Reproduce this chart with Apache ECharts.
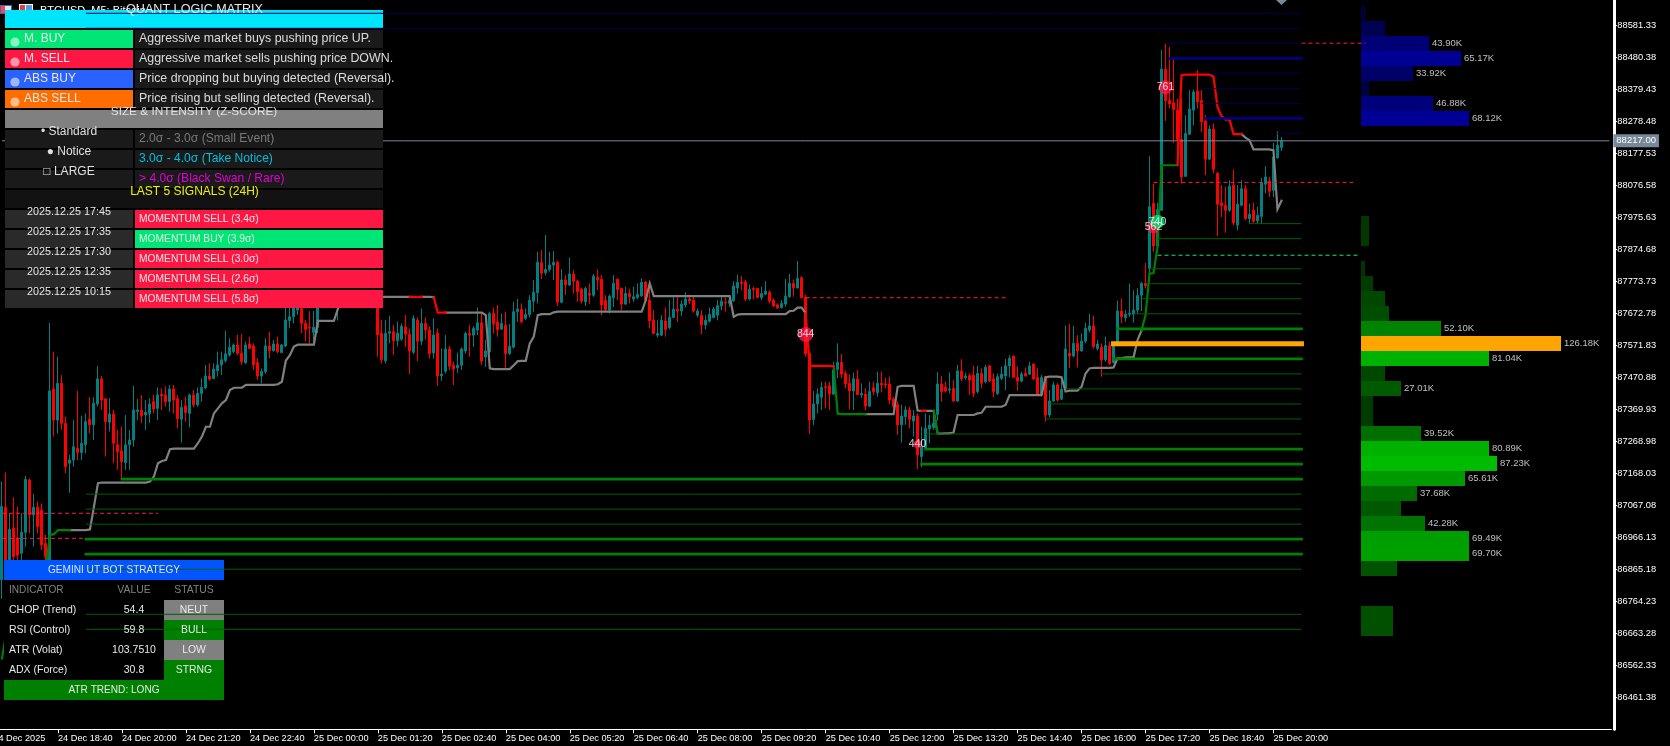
<!DOCTYPE html>
<html><head><meta charset="utf-8"><style>html,body{margin:0;padding:0;background:#000;overflow:hidden}#c{width:1670px;height:746px}</style>
<script src="https://cdn.jsdelivr.net/npm/echarts@6/dist/echarts.min.js"></script></head><body><div id="c"></div><script>
const currentPrice = 88217;
const priceTicks = [88581.33,88480.38,88379.43,88278.48,88177.53,88076.58,87975.63,87874.68,87773.73,87672.78,87571.83,87470.88,87369.93,87268.98,87168.03,87067.08,86966.13,86865.18,86764.23,86663.28,86562.33,86461.38];
const clippedFirstLabel = '24 Dec 2025';
const timeLabels = ['24 Dec 18:40','24 Dec 20:00','24 Dec 21:20','24 Dec 22:40','25 Dec 00:00','25 Dec 01:20','25 Dec 02:40','25 Dec 04:00','25 Dec 05:20','25 Dec 06:40','25 Dec 08:00','25 Dec 09:20','25 Dec 10:40','25 Dec 12:00','25 Dec 13:20','25 Dec 14:40','25 Dec 16:00','25 Dec 17:20','25 Dec 18:40','25 Dec 20:00'];
// open, close, low, high per 5-minute bar
const candleRows = [
[86832,87063,86772,87142],[87061,86884,86874,87171],[86895,86991,86874,87042],[86995,86905,86874,87092],[86963,86910,86884,87063],[86916,86982,86895,87042],[86982,87149,86937,87160],[87147,87037,86979,87152],[87037,87061,86937,87103],[87061,87000,86979,87079],
[87052,86942,86926,87073],[86947,86905,86884,86974],[86884,87428,86874,87643],[87434,87336,87284,87552],[87336,87452,87294,87536],[87452,87326,87305,87478],[87326,87189,87168,87347],[87200,87210,87107,87226],[87210,87252,87189,87336],[87247,87234,87210,87428],
[87234,87263,87210,87350],[87258,87331,87231,87357],[87339,87321,87294,87408],[87321,87389,87273,87408],[87387,87466,87378,87507],[87466,87399,87368,87475],[87403,87331,87221,87405],[87329,87355,87300,87405],[87355,87263,87200,87368],[87258,87236,87179,87305],
[87239,87205,87149,87315],[87202,87258,87179,87352],[87258,87273,87179,87305],[87273,87368,87252,87444],[87363,87368,87336,87402],[87368,87350,87326,87415],[87352,87361,87305,87399],[87357,87387,87326,87405],[87394,87371,87357,87415],[87373,87415,87336,87439],
[87417,87412,87368,87436],[87415,87394,87378,87442],[87394,87434,87363,87447],[87434,87399,87357,87447],[87403,87340,87310,87415],[87339,87376,87265,87399],[87381,87360,87331,87410],[87357,87415,87313,87420],[87415,87384,87376,87431],[87384,87420,87378,87439],
[87420,87439,87394,87468],[87438,87475,87433,87510],[87475,87465,87460,87515],[87467,87497,87465,87515],[87492,87510,87473,87552],[87510,87526,87478,87552],[87524,87545,87517,87618],[87541,87566,87536,87594],[87552,87573,87547,87578],[87573,87547,87541,87605],
[87547,87520,87510,87607],[87517,87573,87513,87584],[87576,87562,87559,87599],[87570,87510,87494,87578],[87517,87475,87463,87531],[87475,87489,87452,87499],[87489,87570,87482,87594],[87570,87555,87531,87615],[87555,87576,87552,87589],[87576,87552,87547,87599],
[87549,87573,87547,87576],[87570,87652,87566,87720],[87650,87662,87626,87735],[87662,87710,87641,87760],[87683,87736,87668,87790],[87687,87641,87610,87740],[87641,87622,87584,87652],[87629,87626,87578,87680],[87613,87629,87573,87680],[87628,87725,87610,87790],
[87720,87790,87690,87840],[87790,87750,87720,87830],[87750,87720,87700,87800],[87720,87780,87700,87830],[87700,87830,87650,87860],[87830,87790,87760,87870],[87790,87850,87770,87890],[87850,87800,87770,87880],[87800,87870,87780,87910],[87870,87820,87790,87900],
[87820,87780,87750,87840],[87780,87830,87750,87860],[87830,87770,87740,87850],[87770,87740,87720,87790],[87740,87605,87536,87780],[87610,87526,87515,87652],[87523,87610,87515,87652],[87610,87615,87578,87665],[87615,87587,87541,87636],[87587,87610,87568,87647],
[87591,87632,87586,87641],[87630,87607,87567,87667],[87607,87554,87481,87625],[87550,87657,87544,87667],[87651,87585,87522,87660],[87585,87641,87573,87688],[87641,87620,87590,87660],[87620,87546,87530,87632],[87548,87604,87530,87657],[87609,87475,87444,87625],
[87476,87481,87460,87562],[87490,87560,87483,87604],[87560,87506,87494,87570],[87509,87497,87446,87520],[87501,87509,87485,87549],[87509,87560,87494,87565],[87554,87609,87546,87615],[87609,87604,87536,87636],[87604,87625,87567,87632],[87620,87643,87604,87691],
[87643,87522,87509,87678],[87535,87554,87504,87588],[87551,87672,87548,87678],[87672,87639,87609,87691],[87645,87622,87599,87699],[87623,87641,87620,87672],[87635,87546,87499,87678],[87546,87569,87541,87639],[87566,87678,87562,87709],[87678,87686,87646,87718],
[87685,87646,87641,87704],[87657,87669,87651,87688],[87669,87714,87660,87730],[87711,87739,87678,87778],[87738,87834,87704,87867],[87832,87799,87781,87872],[87801,87811,87793,87920],[87811,87825,87804,87867],[87825,87834,87778,87869],[87834,87708,87696,87839],
[87708,87778,87704,87812],[87778,87762,87730,87793],[87762,87797,87759,87849],[87797,87774,87735,87809],[87774,87741,87709,87778],[87749,87711,87704,87754],[87709,87751,87696,87757],[87735,87730,87702,87767],[87730,87790,87725,87797],[87786,87778,87746,87811],
[87780,87699,87667,87793],[87714,87685,87678,87730],[87683,87727,87672,87732],[87722,87767,87693,87793],[87780,87748,87714,87783],[87751,87702,87683,87754],[87702,87735,87699,87757],[87735,87725,87704,87751],[87718,87725,87709,87757],[87723,87732,87717,87767],
[87728,87770,87725,87783],[87772,87714,87711,87774],[87714,87649,87625,87767],[87651,87609,87607,87683],[87604,87609,87597,87651],[87604,87651,87601,87667],[87649,87622,87599,87691],[87628,87660,87622,87714],[87660,87686,87657,87725],[87686,87680,87646,87723],
[87680,87702,87664,87714],[87699,87718,87691,87739],[87718,87712,87702,87732],[87714,87680,87675,87725],[87667,87680,87660,87688],[87667,87636,87607,87683],[87636,87651,87622,87667],[87648,87669,87644,87691],[87660,87686,87657,87693],[87667,87697,87651,87714],
[87696,87711,87683,87725],[87708,87706,87678,87722],[87704,87714,87693,87725],[87712,87759,87709,87774],[87753,87770,87735,87795],[87770,87767,87746,87790],[87772,87718,87711,87778],[87718,87749,87714,87764],[87751,87748,87717,87757],[87751,87723,87720,87753],
[87723,87735,87714,87757],[87733,87743,87730,87774],[87739,87711,87704,87746],[87714,87696,87693,87720],[87699,87690,87686,87704],[87691,87704,87688,87714],[87702,87727,87693,87781],[87725,87767,87722,87797],[87767,87753,87725,87780],[87753,87783,87751,87838],
[87785,87722,87720,87790],[87723,87545,87536,87731],[87547,87336,87292,87552],[87338,87387,87320,87428],[87387,87418,87357,87436],[87408,87439,87368,87457],[87441,87438,87373,87457],[87444,87418,87368,87457],[87418,87494,87415,87520],[87496,87518,87468,87578],
[87518,87481,87468,87545],[87483,87450,87436,87492],[87452,87428,87370,87480],[87428,87466,87368,87486],[87466,87417,87415,87494],[87415,87420,87405,87452],[87418,87380,87366,87436],[87380,87426,87378,87457],[87438,87426,87415,87457],[87423,87452,87410,87489],
[87452,87447,87423,87489],[87450,87448,87436,87470],[87450,87399,87387,87473],[87402,87380,87373,87410],[87384,87321,87289,87394],[87321,87349,87265,87384],[87347,87368,87321,87380],[87368,87338,87310,87378],[87333,87349,87284,87368],[87349,87226,87182,87357],
[87221,87252,87187,87315],[87247,87310,87242,87357],[87308,87320,87263,87352],[87313,87326,87305,87368],[87354,87450,87334,87487],[87450,87426,87394,87475],[87439,87428,87423,87457],[87431,87434,87420,87486],[87436,87396,87394,87462],[87396,87491,87394,87510],
[87491,87466,87459,87528],[87470,87475,87462,87486],[87476,87462,87415,87483],[87478,87420,87408,87507],[87426,87483,87420,87507],[87483,87452,87436,87499],[87457,87502,87452,87510],[87507,87459,87457,87510],[87466,87426,87408,87483],[87420,87473,87415,87483],
[87468,87481,87462,87505],[87475,87507,87431,87529],[87507,87531,87471,87541],[87538,87471,87468,87538],[87471,87459,87429,87505],[87459,87481,87455,87489],[87483,87475,87473,87502],[87481,87507,87478,87520],[87513,87466,87462,87515],[87470,87418,87415,87499],
[87417,87470,87410,87478],[87473,87352,87331,87475],[87352,87396,87345,87431],[87396,87447,87394,87457],[87447,87399,87394,87452],[87402,87433,87399,87462],[87436,87560,87431,87634],[87547,87538,87499,87639],[87538,87578,87534,87633],[87578,87554,87502,87604],
[87554,87585,87552,87610],[87585,87625,87578,87643],[87620,87633,87612,87671],[87633,87568,87562,87665],[87562,87576,87555,87589],[87566,87526,87473,87578],[87526,87571,87520,87599],[87571,87515,87510,87583],[87517,87578,87515,87580],[87578,87680,87573,87713],
[87680,87662,87641,87720],[87659,87670,87647,87683],[87670,87673,87662,87767],[87670,87683,87643,87746],[87683,87729,87673,87752],[87730,87767,87680,87772],[87767,87760,87751,87832],[87814,88009,87782,88168],[88019,87885,87867,88082],[87885,88000,87882,88022],
[87998,88443,87996,88503],[88443,88343,88280,88524],[88345,88333,88319,88513],[88337,88316,88211,88477],[88314,88221,88140,88350],[88221,88103,88082,88350],[88105,88240,88103,88298],[88238,88317,88235,88377],[88314,88371,88266,88379],[88374,88340,88319,88440],
[88345,88277,88245,88377],[88279,88159,88109,88298],[88159,88254,88156,88266],[88254,88127,88114,88272],[88114,88017,87916,88119],[88021,88012,87977,88077],[88014,87998,87927,88072],[87998,88074,87993,88093],[88077,87958,87951,88126],[87951,88017,87935,88077],
[88014,88066,88011,88093],[88066,87972,87967,88077],[87972,87985,87956,88019],[87998,87963,87958,88022],[87964,87982,87956,88009],[87979,88084,87956,88100],[88080,88103,88051,88137],[88090,88058,88040,88103],[88061,88166,88040,88211],[88163,88203,88161,88247],
[88196,88217,88185,88229]];
// trailing stop: value, number of bars it holds
const trailRuns = [[86584,1],[86660,1],[86710,1],[86760,1],[86780,1],[86800,1],[86820,1],[86830,1],[86840,1],[86850,1],[86855,1],[86874,1],[86974,1],[86976,1],[86989,8],[86991,1],[87063,1],[87137,1],[87139,12],[87142,1],[87158,1],[87200,1],[87207,1],[87210,1],[87244,1],[87246,6],[87263,1],[87284,1],[87315,2],[87357,1],[87373,1],[87389,1],[87399,1],[87431,1],[87438,3],[87447,8],[87449,1],[87457,1],[87524,1],[87541,1],[87568,1],[87574,5],[87649,5],[87686,1],[87725,23],[87723,1],[87675,12],[87667,1],[87499,1],[87497,5],[87509,1],[87522,1],[87523,2],[87578,1],[87599,1],[87667,1],[87670,3],[87676,1],[87678,22],[87714,1],[87767,1],[87727,20],[87662,1],[87669,1],[87670,12],[87680,1],[87681,1],[87691,2],[87673,1],[87507,6],[87505,1],[87357,1],[87355,14],[87441,1],[87444,4],[87366,1],[87365,4],[87294,1],[87293,1],[87294,2],[87297,1],[87352,5],[87357,1],[87359,1],[87378,5],[87384,1],[87415,9],[87471,1],[87473,3],[87471,1],[87426,1],[87429,3],[87441,1],[87483,1],[87499,1],[87501,5],[87502,1],[87531,2],[87534,3],[87588,1],[87619,1],[87667,1],[87798,1],[87800,1],[87882,1],[88140,5],[88424,1],[88426,7],[88419,1],[88324,1],[88295,1],[88284,2],[88238,3],[88227,1],[88219,1],[88190,5],[88187,1],[88001,1],[88028,1]];
const trailStateRuns = [['up',17],['flat',85],['down',3],['flat',3],['down',3],['flat',90],['down',7],['up',8],['flat',14],['down',1],['flat',2],['up',1],['flat',51],['up',9],['down',16],['flat',11]];
// volume profile, top row first: price of row, volume in K, first bar of its level line (null: no line)
const levelPrices = [88619.3,88571.9,88524.5,88477.1,88429.7,88382.3,88334.9,88287.5,88240.1,88192.7,88145.3,88097.9,88050.5,88003.1,87955.7,87908.3,87860.9,87813.5,87766.1,87718.7,87671.3,87623.9,87576.5,87529.1,87481.7,87434.3,87386.9,87339.5,87292.1,87244.7,87197.3,87149.9,87102.5,87055.1,87007.7,86960.3,86912.9,86865.5,86818.1,86770.7,86723.3,86675.9];
const levelVolumes = [2.5,15.2,43.9,65.17,33.92,5,46.88,68.12,0,0,0,0,0,0,5,5,0,2.5,7.6,15.2,17.7,52.1,126.18,81.04,15.2,27.01,7.6,7.6,39.52,80.89,87.23,65.61,37.68,25.3,42.28,69.49,69.7,22.7,0,0,20.2,20.2];
const levelStartBars = [21,21,291,292,302,300,300,301,319,null,null,null,null,null,312,289,null,287,287,285,283,279,278,278,275,266,262,261,231,231,230,30,21,21,21,21,21,21,null,null,21,21];
const supplyRows = 14; // rows above this index are blue
const pocRow = 22;
// dashed signal levels: price, first bar, last bar, side
const signalLevels = [[87042,0,39,'sell'],[86963,0,21,'sell'],[88525,325,341,'sell'],[88086,288,338,'sell'],[87856,289,339,'buy'],[87722,201,251,'sell']];
// signal bubbles: bar, price, text, side, size
const signalDots = [[201,87606,'844','sell',15],[291,88386,'761','sell',14],[288,87946,'562','sell',13],[289,87962,'740','buy',14],[229,87260,'440','sell',8]];

const legendLabels = ['M. BUY','M. SELL','ABS BUY','ABS SELL'];
const legendDescriptions = ['Aggressive market buys pushing price UP.','Aggressive market sells pushing price DOWN.','Price dropping but buying detected (Reversal).','Price rising but selling detected (Reversal).'];
const sizeLabels = ['• Standard','● Notice','□ LARGE'];
const sizeDescriptions = ['2.0σ - 3.0σ (Small Event)','3.0σ - 4.0σ (Take Notice)','> 4.0σ (Black Swan / Rare)'];
const signalTimes = ['2025.12.25 17:45','2025.12.25 17:35','2025.12.25 17:30','2025.12.25 12:35','2025.12.25 10:15'];
const signalTexts = ['MOMENTUM SELL (3.4σ)','MOMENTUM BUY (3.9σ)','MOMENTUM SELL (3.0σ)','MOMENTUM SELL (2.6σ)','MOMENTUM SELL (5.8σ)'];
const indicatorNames = ['CHOP (Trend)','RSI (Control)','ATR (Volat)','ADX (Force)'];
const indicatorValues = ['54.4','59.8','103.7510','30.8'];
const indicatorStatus = ['NEUT','BULL','LOW','STRNG'];

const FONT = '"Liberation Sans", Arial, sans-serif';
const UP = '#008080', DN = '#ff0000';
const BARS = 403, LAST_LEVEL_BAR = 325;
const pxPerPrice = 32 / 100.95;
const yMax = 88661.24, yMin = yMax - 729.3 / pxPerPrice;
const PROFILE_MAX = 126.18, PROFILE_WIDTH = 200, BAR_STEP = 4;
// the profile's bars snap to whole chart-bar widths
const snapVolume = v => Math.floor(v * PROFILE_WIDTH / PROFILE_MAX / BAR_STEP + 0.05) * BAR_STEP * PROFILE_MAX / PROFILE_WIDTH;

const cats = Array.from({length: BARS}, (_, i) => i);
const trail = trailRuns.flatMap(([v, n]) => Array(n).fill(v));
const trailState = trailStateRuns.flatMap(([s, n]) => Array(n).fill(s));
const isLabelBar = i => i >= 14 && (i + 2) % 16 === 0 && (i + 2) / 16 - 1 < timeLabels.length;

const series = [];
series.push({type:'candlestick', xAxisIndex:0, yAxisIndex:0, z:2, barWidth:2.5, clip:true, silent:true, animation:false, data:candleRows,
  itemStyle:{color:UP, color0:DN, borderColor:UP, borderColor0:DN, borderWidth:1}});
series.push({type:'line', xAxisIndex:0, yAxisIndex:0, z:3, silent:true, animation:false, showSymbol:false, data:[[0,currentPrice],[BARS-1,currentPrice]],
  lineStyle:{color:'#778899', width:1},
  endLabel:{show:true, formatter:currentPrice.toFixed(2), color:'#fff', backgroundColor:'#778899', fontFamily:FONT, fontSize:9.5, padding:[2,3,1,3], distance:4}});
[['flat','#808080'],['up','#008000'],['down','#ff0000']].forEach(([s, col]) => {
  series.push({type:'line', xAxisIndex:0, yAxisIndex:0, z:4, silent:true, animation:false, showSymbol:false, connectNulls:false,
    data: trail.map((v, i) => (trailState[i] === s || trailState[i-1] === s) ? v : null),
    lineStyle:{color:col, width:2.2, cap:'square', join:'miter'}});
});
signalLevels.forEach(([p, a, b, side]) => {
  series.push({type:'line', xAxisIndex:0, yAxisIndex:0, z:4, silent:true, animation:false, showSymbol:false, data:[[a,p],[b,p]],
    lineStyle:{color: side === 'buy' ? '#00e676' : '#ff1744', width:1, type:[4,3]}});
});
levelPrices.forEach((p, k) => {
  if (levelStartBars[k] === null) return;
  const v = levelVolumes[k], blue = k < supplyRows, big = v >= 50;
  let col = blue ? (big ? '#000080' : '#00004d') : (big ? '#008000' : '#005f00'), w = big ? 2.8 : 1;
  if (k === pocRow) { col = '#ffa500'; w = 5; }
  series.push({type:'line', xAxisIndex:0, yAxisIndex:0, z:6, silent:true, animation:false, showSymbol:false, data:[[levelStartBars[k],p],[LAST_LEVEL_BAR,p]],
    lineStyle:{color:col, width:w, cap: big ? 'square' : 'butt'}});
});
series.push({type:'scatter', xAxisIndex:0, yAxisIndex:0, z:7, silent:true, animation:false,
  data: signalDots.map(d => ({value:[d[0], d[1]], symbolSize:d[4], label:{show:true, formatter:d[2], position:'inside', color:'#fff', fontFamily:FONT, fontSize:10.5},
    itemStyle:{color: d[3] === 'buy' ? '#00e676' : '#ff1744'}}))});
series.push({type:'bar', xAxisIndex:1, yAxisIndex:1, z:3, silent:true, animation:false, barCategoryGap:0, barGap:0,
  data: levelVolumes.map((v, k) => ({value:snapVolume(v), itemStyle:{color: k === pocRow ? '#ffa500' : (k < supplyRows ? `rgb(0,0,${Math.round(60 + 1.32*v)})` : `rgb(0,${Math.round(48 + 1.6*v)},0)`)}})),
  label:{show:true, position:'right', distance:3, color:'#c0c0c0', fontFamily:FONT, fontSize:9.5, formatter:o => levelVolumes[o.dataIndex] >= 27 ? levelVolumes[o.dataIndex].toFixed(2)+'K' : ''}});

// panels
const g = [];
const rect = (x,y,w,h,fill,z=5) => g.push({type:'rect', z, silent:true, shape:{x,y,width:w,height:h}, style:{fill}});
const text = (x,y,t,fill,size,align='left',z=8) => g.push({type:'text', z, silent:true, x, y, style:{text:t, fill, fontFamily:FONT, fontSize:size, align, verticalAlign:'middle'}});
// terminal toolbar under the panel
rect(0,5,12,9,'#3366cc',1); rect(1,6,4,7,'#ff4444',1); rect(5,6,6,7,'#dfe8f5',1);
rect(19,4,14,11,'#ffffff',1); rect(20,5,5,9,'#e04040',1); rect(26,5,6,9,'#5a9be0',1);
text(40,11,'BTCUSD, M5: Bitcoin','#ffffff',11,'left',1);
rect(5,28,378,280,'#000',4.9);
rect(5,10,378,18,'#00e5ff');
text(194.5,9.5,'QUANT LOGIC MATRIX','#e8e8e8',12.6,'center');
const legendCols = ['#00e676','#ff1744','#2962ff','#ff6d00'];
legendLabels.forEach((t,i) => {
  const y = 30 + 20*i;
  rect(5,y,128,18,legendCols[i]); rect(135,y,248,18,'#1a1a1a');
  g.push({type:'circle', z:8, silent:true, shape:{cx:15,cy:y+12,r:4.6}, style:{fill:'rgba(255,255,255,0.55)'}});
  text(24,y+8.5,t,'#e8e8e8',12);
  text(139,y+8.5,legendDescriptions[i],'#dcdcdc',12.4);
});
rect(5,110,378,18,'#808080');
text(194,111.5,'SIZE & INTENSITY (Z-SCORE)','#e0e0e0',11.8,'center');
const sizeCols = ['#7a7a7a','#00bfdf','#e000d0'];
sizeLabels.forEach((t,i) => {
  const y = 130 + 20*i;
  rect(5,y,128,18,'#1a1a1a'); rect(135,y,248,18,'#1a1a1a');
  text(69,y+1.5,t,'#e0e0e0',12,'center');
  text(139,y+9,sizeDescriptions[i],sizeCols[i],12.1);
});
rect(5,190,378,18,'#121212');
text(194.5,191.5,'LAST 5 SIGNALS (24H)','#f0f000',12,'center');
signalTexts.forEach((t,i) => {
  const y = 210 + 20*i;
  rect(5,y,128,18,'#2a2a2a');
  rect(135,y,248,18, t.indexOf('BUY') >= 0 ? '#00e676' : '#ff1744');
  text(69,y+2,signalTimes[i],'#e8e8e8',10.8,'center');
  text(139,y+9,t,'#e8e8e8',10.25);
});
rect(4,580,220,120,'#000',5);
rect(4,560,220,20,'#0055ff');
text(114,570,'GEMINI UT BOT STRATEGY','#d8e4ff',10.1,'center');
text(9,590,'INDICATOR','#808080',10.1);
text(134,590,'VALUE','#808080',10.4,'center');
text(194,590,'STATUS','#808080',10.4,'center');
indicatorNames.forEach((t,i) => {
  const y = 610 + 20*i;
  text(9,y,t,'#e8e8e8',10.5);
  text(134,y,indicatorValues[i],'#e8e8e8',10.5,'center');
  rect(164,y-10,60,20,(i%2===0)?'#808080':'#008000');
  text(194,y,indicatorStatus[i],'#e8e8e8',10.4,'center');
});
rect(4,680,220,20,'#008000');
text(114,690,'ATR TREND: LONG','#e8e8e8',10.1,'center');
// scroll marker and the first time label, which starts left of the canvas
g.push({type:'polygon', z:9, silent:true, shape:{points:[[1276,0],[1287,0],[1281.5,5]]}, style:{fill:'#778899'}});
text(-6.67,738.8,clippedFirstLabel,'#fff',9.2);

const option = {
  backgroundColor:'#000', animation:false,
  graphic:{elements:g},
  grid:[{left:-0.67, top:0, width:1612, height:729.3, containLabel:false},
        {left:1361, top:6, width:PROFILE_WIDTH, height:630, containLabel:false}],
  xAxis:[{type:'category', gridIndex:0, data:cats, boundaryGap:true,
          axisLine:{lineStyle:{color:'#fff', width:1}},
          axisTick:{show:true, alignWithLabel:true, length:4, interval:(i)=>isLabelBar(i), lineStyle:{color:'#fff'}},
          axisLabel:{show:true, color:'#fff', fontFamily:FONT, fontSize:9.2, align:'left', margin:5, hideOverlap:false, interval:(i)=>isLabelBar(i),
                     formatter:(v,i)=> isLabelBar(i) ? timeLabels[(i+2)/16-1] : ''},
          splitLine:{show:false}},
         {type:'value', gridIndex:1, min:0, max:PROFILE_MAX, show:false}],
  yAxis:[{type:'value', gridIndex:0, position:'right', offset:2.5, min:yMin, max:yMax, scale:true,
          axisLine:{show:true, onZero:false, lineStyle:{color:'#fff', width:3}},
          axisTick:{show:true, length:3, inside:false, customValues:priceTicks, lineStyle:{color:'#fff'}},
          axisLabel:{show:true, color:'#fff', fontFamily:FONT, fontSize:9.3, margin:3.5, customValues:priceTicks, formatter:v=>Number(v).toFixed(2)},
          splitLine:{show:false}},
         {type:'category', gridIndex:1, inverse:true, data:levelPrices.map(p=>p.toFixed(1)), show:false}],
  series
};
const chart = echarts.init(document.getElementById('c'), null, {renderer:'canvas', width:1670, height:746});
chart.setOption(option);
</script></body></html>
